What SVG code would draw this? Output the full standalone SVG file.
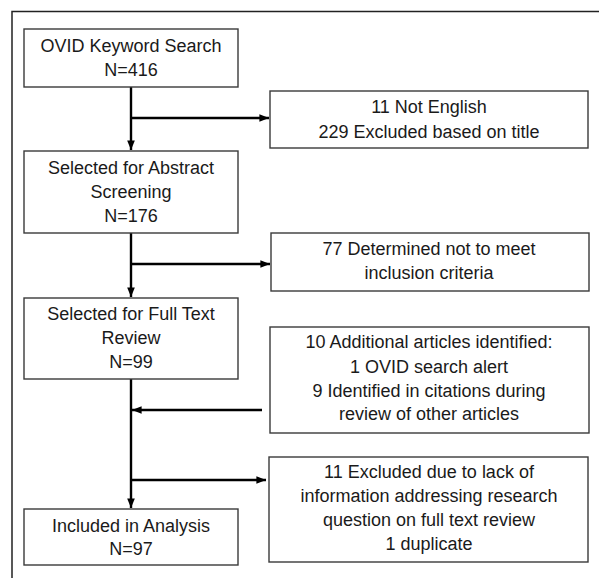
<svg xmlns="http://www.w3.org/2000/svg" width="599" height="578" viewBox="0 0 599 578">
<defs>
<marker id="ah" viewBox="0 0 10 10" refX="10" refY="5" markerWidth="4" markerHeight="4" markerUnits="strokeWidth" orient="auto">
<path d="M0,1 L10,5 L0,9 z" fill="#000"/>
</marker>
</defs>
<style>
.box{fill:#fff;stroke:#3a3a3a;stroke-width:1.4}
.t{font-family:"Liberation Sans",Arial,sans-serif;font-size:18px;fill:#1a1a1a;text-anchor:middle}
.c{stroke:#000;stroke-width:2.4;fill:none}
.frame{stroke:#222;stroke-width:1.5;fill:none}
</style>
<rect width="599" height="578" fill="#fff"/>
<path class="frame" d="M12,578 V11.5 H599"/>
<g id="connectors">
<line class="c" x1="131" y1="87" x2="131" y2="150" marker-end="url(#ah)"/>
<line class="c" x1="131" y1="118" x2="269" y2="118" marker-end="url(#ah)"/>
<line class="c" x1="131" y1="233" x2="131" y2="297" marker-end="url(#ah)"/>
<line class="c" x1="131" y1="264" x2="270" y2="264" marker-end="url(#ah)"/>
<line class="c" x1="131" y1="379" x2="131" y2="508" marker-end="url(#ah)"/>
<line class="c" x1="262" y1="410" x2="132" y2="410" marker-end="url(#ah)"/>
<line class="c" x1="131" y1="480" x2="266" y2="480" marker-end="url(#ah)"/>
</g>
<g id="n1">
<rect class="box" x="24" y="29" width="214" height="58"/>
<text class="t" x="131" y="52">OVID Keyword Search</text>
<text class="t" x="131" y="76">N=416</text>
</g>
<g id="n2">
<rect class="box" x="270" y="91" width="318" height="57"/>
<text class="t" x="429" y="113">11 Not English</text>
<text class="t" x="429" y="138">229 Excluded based on title</text>
</g>
<g id="n3">
<rect class="box" x="24" y="151" width="214" height="82"/>
<text class="t" x="131" y="174">Selected for Abstract</text>
<text class="t" x="131" y="198">Screening</text>
<text class="t" x="131" y="222">N=176</text>
</g>
<g id="n4">
<rect class="box" x="271" y="233" width="318" height="58"/>
<text class="t" x="429" y="255">77 Determined not to meet</text>
<text class="t" x="429" y="279">inclusion criteria</text>
</g>
<g id="n5">
<rect class="box" x="24" y="298" width="214" height="81"/>
<text class="t" x="131" y="320">Selected for Full Text</text>
<text class="t" x="131" y="344">Review</text>
<text class="t" x="131" y="368">N=99</text>
</g>
<g id="n6">
<rect class="box" x="270" y="327" width="319" height="106"/>
<text class="t" x="429" y="348">10 Additional articles identified:</text>
<text class="t" x="429" y="373">1 OVID search alert</text>
<text class="t" x="429" y="397">9 Identified in citations during</text>
<text class="t" x="429" y="420">review of other articles</text>
</g>
<g id="n7">
<rect class="box" x="269" y="457" width="319" height="105"/>
<text class="t" x="429" y="478">11 Excluded due to lack of</text>
<text class="t" x="429" y="502">information addressing research</text>
<text class="t" x="429" y="526">question on full text review</text>
<text class="t" x="429" y="550">1 duplicate</text>
</g>
<g id="n8">
<rect class="box" x="24" y="509" width="214" height="56"/>
<text class="t" x="131" y="532">Included in Analysis</text>
<text class="t" x="131" y="555">N=97</text>
</g>
</svg>
